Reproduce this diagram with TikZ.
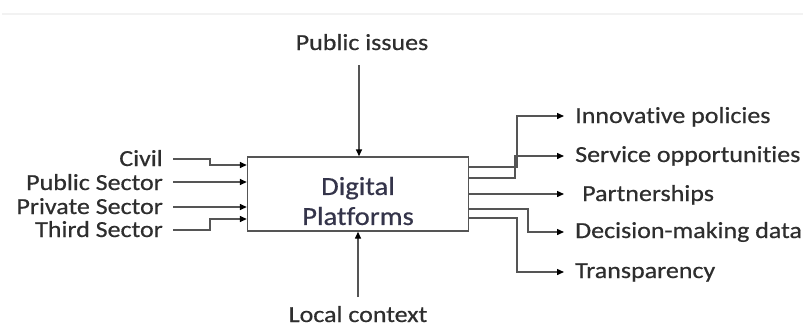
\documentclass[tikz,border=0pt]{standalone}
\usepackage{fontspec}
\setmainfont{Carlito}[Ligatures=NoCommon]
\newfontfamily\heavier{Carlito}[Ligatures=NoCommon, FakeBold=0.5]
\usetikzlibrary{arrows.meta}
\definecolor{txt}{HTML}{2E2E2E}
\definecolor{ln}{HTML}{555555}
\definecolor{boxtxt}{HTML}{34344A}
\newcommand\wid[1]{\scalebox{1.13}[1]{#1}}
\tikzset{
  lbl/.style={font=\fontsize{23}{27}\selectfont\heavier, text=txt, inner sep=0pt},
  arr/.style={draw=ln, line width=1.4pt, -{Triangle[length=7pt,width=6pt,fill=black,color=black]}},
  mainbox/.style={draw=ln, line width=1.4pt, minimum width=221pt, minimum height=74pt, inner sep=0pt}
}
\begin{document}
\begin{tikzpicture}[x=1pt,y=-1pt]
\useasboundingbox[fill=white] (0,0) rectangle (803,327);
\draw[gray!10, line width=1.5pt] (2,14) -- (803,14);
\node[mainbox] (box) at (358,194) {};
\node[align=center, inner sep=0pt, font=\fontsize{26}{30}\selectfont\heavier, text=boxtxt] (boxlabel) at (358,201)
  {\scalebox{1.1}[1]{Digital}\\\scalebox{1.1}[1]{Platforms}};
% top / bottom
\node[lbl, anchor=base] (pub) at (362,50) {\wid{Public issues}};
\node[lbl, anchor=base] (loc) at (358,322) {\wid{Local context}};
\coordinate (pubend) at (359,65);
\coordinate (locend) at (358,297);
\draw[arr] (pubend) -- (box.north -| pubend);
\draw[arr] (locend) -- (box.south -| locend);
% left inputs
\node[lbl, anchor=base east] (civ) at (163,166) {\wid{Civil}};
\node[lbl, anchor=base east] (pus) at (163,190) {\wid{Public Sector}};
\node[lbl, anchor=base east] (prs) at (163,214) {\wid{Private Sector}};
\node[lbl, anchor=base east] (ths) at (163,237) {\wid{Third Sector}};
\coordinate (s1) at (173,159);
\coordinate (s2) at (173,182);
\coordinate (s3) at (173,207);
\coordinate (s4) at (173,230);
\coordinate (i1) at (0,165);
\coordinate (i4) at (0,219);
\draw[arr] (s1) -- (210,159) -- (210,165) -- (box.west |- i1);
\draw[arr] (s2) -- (box.west |- s2);
\draw[arr] (s3) -- (box.west |- s3);
\draw[arr] (s4) -- (210,230) -- (210,219) -- (box.west |- i4);
% right outputs
\node[lbl, anchor=base west] (inn) at (575,123) {\wid{Innovative policies}};
\node[lbl, anchor=base west] (ser) at (575,162) {\wid{Service opportunities}};
\node[lbl, anchor=base west] (par) at (582,201) {\wid{Partnerships}};
\node[lbl, anchor=base west] (dec) at (575,238) {\wid{Decision-making data}};
\node[lbl, anchor=base west] (tra) at (575,278) {\wid{Transparency}};
\coordinate (t1) at (564,116);
\coordinate (t2) at (564,156);
\coordinate (t3) at (564,194);
\coordinate (t4) at (564,232);
\coordinate (t5) at (564,272);
\coordinate (o1) at (0,167);
\coordinate (o2) at (0,178);
\coordinate (o4) at (0,209);
\coordinate (o5) at (0,218);
\draw[arr] (box.east |- o1) -- (517,167) |- (t1);
\draw[arr] (box.east |- o2) -- (515,178) |- (t2);
\draw[arr] (box.east |- t3) -- (t3);
\draw[arr] (box.east |- o4) -- (528,209) |- (t4);
\draw[arr] (box.east |- o5) -- (517,218) |- (t5);
\end{tikzpicture}
\end{document}
